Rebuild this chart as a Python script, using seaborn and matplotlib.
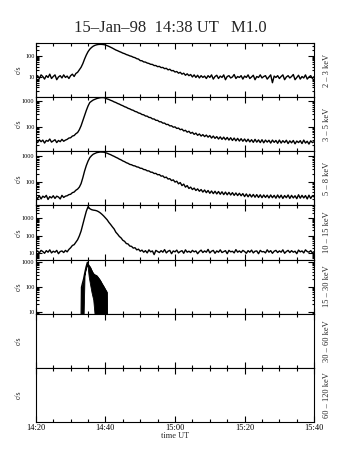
import numpy as np
import seaborn as sns
import matplotlib.pyplot as plt
from matplotlib.ticker import FixedLocator, MultipleLocator, LogLocator, NullFormatter, NullLocator

# ---- data ---------------------------------------------------------------------
# time in minutes after 14:20 UT, 30 s bins
t = np.arange(0, 80.5, 0.5)

tick_pos = [0, 20, 40, 60, 80]
tick_lab = ["14:20", "14:40", "15:00", "15:20", "15:40"]

band_labels = ["2 – 3 keV", "3 – 5 keV", "5 – 8 keV", "10 – 15 keV",
               "15 – 30 keV", "30 – 60 keV", "60 – 120 keV"]

c_2_3 = [9, 11, 8, 12, 10, 7.5, 11, 9, 13, 8, 10, 12, 7, 9.5, 11, 8.5, 12, 9, 10.5, 8,
         11, 13, 10, 14, 16, 21, 28, 42, 70, 110, 160, 210, 255, 295, 325, 345, 358, 362, 360, 352,
         338, 312, 288, 262, 238, 213, 192, 178, 162, 150, 136, 128, 116, 109, 100, 95, 86, 82, 73, 70,
         59, 58, 51, 50, 45, 43, 39, 38.5, 34, 34, 30, 31, 27, 27.5, 24, 25, 21, 22.5, 19, 19.5,
         16.5, 17.5, 14.5, 16, 13, 14.5, 11.5, 13.5, 11, 12.5, 9.5, 12, 9, 11.5, 8.5, 11, 9, 10.5, 8, 11,
         9, 12, 7.5, 10, 11.5, 8, 10.5, 9, 12, 7, 10, 11, 8.5, 9.5, 12.5, 8, 10, 9, 11, 7.5,
         10.5, 9, 12, 8, 9.5, 11.5, 7, 10, 9, 12, 8.5, 10, 11, 7.5, 9.5, 12, 5, 10.5, 9, 11,
         8, 10, 12, 7, 9.5, 11, 8.5, 10, 12.5, 7, 9, 11.5, 7.5, 10, 8.5, 12, 7.5, 9.5, 11, 8,
         10]

c_3_5 = [28, 24, 31, 26, 30, 23, 29, 27, 33, 25, 28, 31, 24, 29, 26, 32, 27, 30, 32, 36,
         37, 43, 45, 53, 59, 76, 108, 172, 268, 425, 635, 865, 975, 1085, 1155, 1235, 1285, 1335, 1350, 1345,
         1285, 1195, 1135, 1055, 995, 915, 865, 795, 750, 690, 650, 595, 565, 515, 490, 450, 430, 390, 375, 340,
         328, 296, 288, 259, 255, 228, 225, 200, 198, 176, 175, 155, 154, 137, 137, 121, 122, 107, 108, 95,
         98, 85, 88, 76, 80, 68, 72, 61, 66, 55, 60, 50, 56, 46, 52, 43, 49, 41, 47, 39,
         45, 36, 43, 35, 41, 33, 40, 32, 39, 31, 38, 30, 37, 29, 36, 28, 35, 27.5, 34, 27,
         33, 26, 32.5, 25.5, 31, 24.5, 32, 25, 30.5, 24, 31, 23.5, 30, 25, 29.5, 23, 30, 24.5, 29, 22.5,
         30, 23, 28.5, 24, 29.5, 22, 28, 23.5, 29, 21.5, 27.5, 24, 28.5, 22, 30, 23, 27, 21, 28, 24,
         26]

c_5_8 = [25, 22, 28, 21, 27, 24, 29, 20, 26, 23, 28, 22, 27, 25, 21, 29, 24, 27, 28, 31,
         32, 37, 39, 46, 51, 61, 84, 142, 258, 425, 635, 865, 1035, 1185, 1275, 1365, 1405, 1445, 1440, 1425,
         1355, 1295, 1205, 1135, 1045, 975, 895, 835, 760, 710, 645, 605, 550, 520, 472, 458, 422, 411, 378, 368,
         335, 330, 298, 292, 265, 262, 235, 232, 208, 210, 186, 189, 164, 168, 143, 150, 126, 131, 110, 117,
         96, 104, 82, 92, 70, 80, 61, 70, 54, 61, 49, 56, 45, 52, 42, 49, 39, 47, 37, 45,
         35, 43, 34, 42, 33, 41, 32, 40, 31, 39, 30.5, 38, 30, 37, 29, 36, 28.5, 35, 28, 34,
         26, 33, 25.5, 32, 25, 31.5, 24.5, 31, 24, 30.5, 23.5, 30, 24, 29.5, 23, 30, 23.5, 29, 22.5, 30,
         23, 29.5, 22, 28.5, 23.5, 30, 22, 29, 23, 28, 21.5, 30.5, 22.5, 29, 23, 28.5, 21, 29.5, 22, 28,
         25]

c_10_15 = [11, 13, 10, 14, 12, 9.5, 13.5, 11, 15, 10, 12.5, 11, 14, 9, 12, 13, 10.5, 14, 11.5, 16,
           20, 27, 30, 42, 58, 97, 185, 460, 1100, 2600, 4800, 3700, 3250, 3050, 2950, 2780, 2480, 2120, 1740, 1390,
           1080, 830, 590, 445, 325, 245, 158, 122, 90, 74, 54, 47, 35, 33, 25, 24, 19, 20, 15, 16.5,
           12.5, 14.5, 11, 13.5, 10, 15, 11.5, 13, 8, 14, 12, 10.5, 13.5, 11, 15.5, 10, 12.5, 14, 9, 13,
           11.5, 14.5, 10, 12, 13.5, 9.5, 15, 11, 12.5, 10.5, 14, 11.5, 13, 9, 12, 14.5, 10.5, 13, 11, 16,
           10, 12.5, 14, 9.5, 13, 11, 15, 10.5, 12, 13.5, 9, 14, 11.5, 12.5, 10, 15.5, 11, 13, 10.5, 14,
           12, 9.5, 13.5, 11, 14.5, 10, 12.5, 13, 9, 14, 11.5, 12, 10, 15, 11, 13.5, 9.5, 12.5, 14, 10.5,
           13, 11, 15, 9.5, 12, 14, 10.5, 13.5, 11, 12.5, 9, 14.5, 11.5, 13, 10, 15, 12, 11, 13.5, 10,
           12]

# 15-30 keV: only a short burst, drawn as a filled band (upper / lower envelope)
t_hxr = [13.0, 13.1, 13.4, 13.7, 14.0, 14.4, 14.8, 15.2, 15.6, 16.0, 16.5, 17.0, 17.5, 18.0, 18.5, 19.0, 19.5, 20.0, 20.4, 20.5]
hi_hxr = [5, 95, 140, 200, 330, 600, 940, 700, 600, 450, 330, 290, 270, 220, 175, 130, 100, 75, 60, 5]
lo_hxr = [5, 5, 5, 5, 300, 550, 800, 250, 120, 60, 30, 5, 5, 5, 5, 5, 5, 5, 5, 5]

ylims = [(1.0, 420), (11, 1400), (11.7, 1540), (4.1, 5700), (8.3, 1200), None, None]
yticks = [[10, 100], [100, 1000], [100, 1000], [10, 100, 1000], [10, 100, 1000], [], []]


def main():
    sns.set_style("ticks")
    plt.rcParams['font.family'] = ['Liberation Serif', 'DejaVu Serif']

    fig, axes = plt.subplots(7, 1, figsize=(3.55, 4.65), dpi=100, sharex=True)
    fig.subplots_adjust(left=0.101, right=0.885, top=0.9075, bottom=0.0925, hspace=0)

    series = [c_2_3, c_3_5, c_5_8, c_10_15]
    for i, ax in enumerate(axes):
        if i < 4:
            sns.lineplot(x=t, y=series[i], ax=ax, color="black", lw=1.0, estimator=None)
        elif i == 4:
            ax.fill_between(t_hxr, lo_hxr, hi_hxr, color="black", lw=0.6)
            sns.lineplot(x=t_hxr, y=hi_hxr, ax=ax, color="black", lw=0.9, estimator=None, sort=False)

        if ylims[i] is not None:
            ax.set_yscale("log")
            ax.set_ylim(*ylims[i])
            ax.yaxis.set_major_locator(FixedLocator(yticks[i]))
            ax.set_yticklabels([str(v) for v in yticks[i]])
            ax.yaxis.set_minor_locator(LogLocator(base=10, subs=np.arange(2, 10)))
            ax.yaxis.set_minor_formatter(NullFormatter())
        else:
            ax.set_ylim(0, 1)
            ax.yaxis.set_major_locator(NullLocator())
            ax.yaxis.set_minor_locator(NullLocator())

        ax.set_xlim(0, 80)
        ax.xaxis.set_major_locator(FixedLocator(tick_pos))
        ax.xaxis.set_minor_locator(MultipleLocator(5))

        ax.tick_params(axis="both", which="both", direction="in", top=True, right=True,
                       width=0.8, colors="black", pad=1.5)
        ax.tick_params(axis="y", labelsize=4.5, pad=1)
        ax.tick_params(axis="x", labelsize=6)
        ax.tick_params(axis="both", which="major", length=4)
        ax.tick_params(axis="x", which="minor", length=2.5)
        ax.tick_params(axis="y", which="minor", length=1.8)
        for s in ax.spines.values():
            s.set_linewidth(0.8)
            s.set_color("black")

        ax.set_ylabel("")
        ax.text(-0.06, 0.5, "c/s", transform=ax.transAxes, rotation=90,
                ha="center", va="center", fontsize=5.5)
        ax.text(1.047, 0.5, band_labels[i], transform=ax.transAxes, rotation=90,
                ha="center", va="center", fontsize=6)

    axes[-1].set_xticklabels(tick_lab)
    axes[-1].set_xlabel("time UT", fontsize=6, labelpad=0)

    fig.text(170 / 355, 1 - 28 / 465, "15–Jan–98  14:38 UT   M1.0",
             ha="center", va="center", fontsize=12)

    plt.savefig("out.png", dpi=100)


if __name__ == '__main__':
    main()
